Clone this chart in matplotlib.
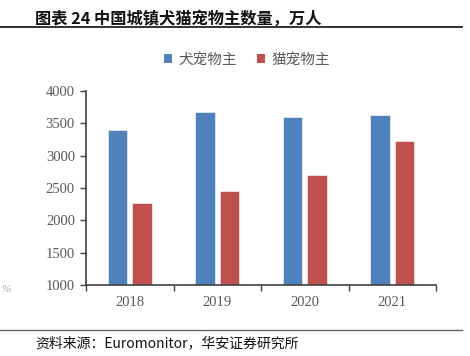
import matplotlib.pyplot as plt
import numpy as np
from matplotlib.lines import Line2D
from matplotlib.patches import Patch

plt.rcParams['font.family'] = ['Noto Sans CJK SC', 'DejaVu Sans']

# data (万人)
years = ['2018', '2019', '2020', '2021']
dog_owners = [3390, 3670, 3595, 3625]
cat_owners = [2265, 2450, 2700, 3225]
series_names = ['犬宠物主', '猫宠物主']
yticks = [1000, 1500, 2000, 2500, 3000, 3500, 4000]

BLUE = '#4F81BD'
RED = '#C0504D'
GRAY = '#595959'
W, H = 470, 356

fig = plt.figure(figsize=(W / 100, H / 100), dpi=100)
ax = fig.add_axes([86 / W, 1 - 285 / H, (436 - 86) / W, (285 - 91) / H])

x = np.arange(len(years))
bw = 0.223
ax.bar(x - 0.142, dog_owners, bw, color=BLUE, edgecolor='white', linewidth=0.4)
ax.bar(x + 0.142, cat_owners, bw, color=RED, edgecolor='white', linewidth=0.4)

ax.set_xlim(-0.5, len(years) - 0.5)
ax.set_ylim(1000, 4000)
ax.set_yticks(yticks)
ax.set_xticks(x)
ax.set_xticklabels(years)
ax.set_xticks(np.arange(len(years) + 1) - 0.5, minor=True)

for s in ['top', 'right']:
    ax.spines[s].set_visible(False)
for s in ['left', 'bottom']:
    ax.spines[s].set_color('#404040')
    ax.spines[s].set_linewidth(1.2)

ax.tick_params(axis='x', which='major', length=0, pad=8)
ax.tick_params(axis='x', which='minor', length=4, width=1, color='#404040', direction='out')
ax.tick_params(axis='y', length=4, width=1, color='#404040', direction='out', pad=4)
for lbl in ax.get_xticklabels() + ax.get_yticklabels():
    lbl.set_family('Liberation Serif')
    lbl.set_fontsize(10.5)
    lbl.set_color(GRAY)

handles = [Patch(facecolor=BLUE), Patch(facecolor=RED)]
leg = fig.legend(handles, series_names, loc='center', bbox_to_anchor=(247 / W, 1 - 60 / H),
                 ncol=2, frameon=False, handlelength=0.55, handleheight=0.55,
                 handletextpad=0.45, columnspacing=1.4, fontsize=10.5)
for t in leg.get_texts():
    t.set_color(GRAY)

# header and footer
fig.text(35 / W, 1 - 18 / H, '图表 24 中国城镇犬猫宠物主数量，万人', fontsize=11.7,
         fontweight='bold', va='center', ha='left', color='#111111')
fig.add_artist(Line2D([0, 462 / W], [1 - 27 / H] * 2, color='#222222', lw=1.3))
fig.add_artist(Line2D([0, 462 / W], [1 - 330 / H] * 2, color='#666666', lw=1.0))
fig.text(35 / W, 1 - 343 / H, '资料来源：Euromonitor，华安证券研究所', fontsize=10,
         va='center', ha='left', color='#111111')
fig.text(1 / W, 1 - 290 / H, '%', fontsize=8, family='Liberation Serif', style='italic',
         color='#aaaaaa', va='center', ha='left')

fig.savefig('out.png', dpi=100)
